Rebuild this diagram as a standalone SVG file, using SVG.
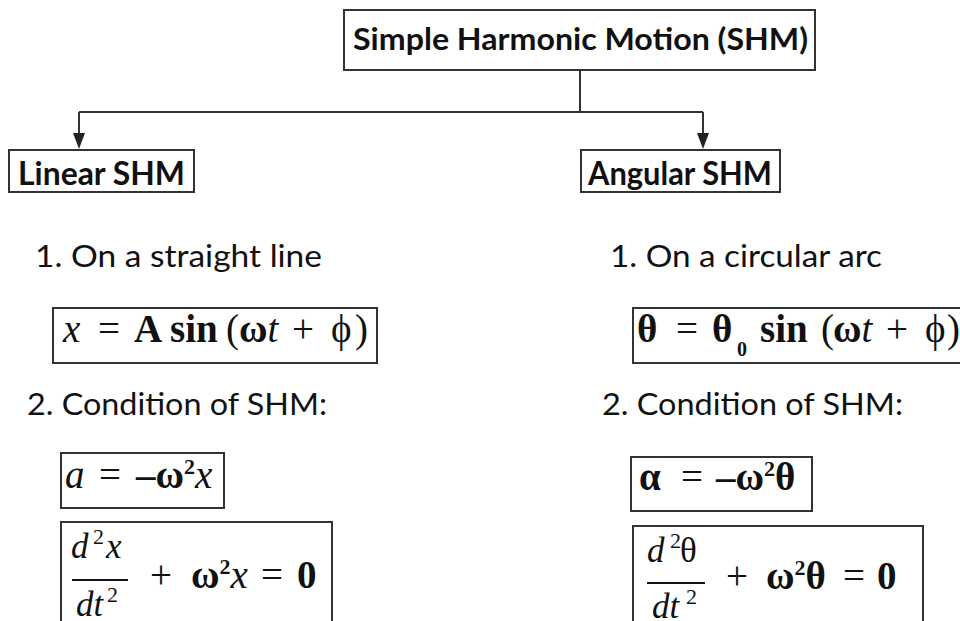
<svg xmlns="http://www.w3.org/2000/svg" width="960" height="621" viewBox="0 0 960 621">
<defs>
<style>
.box{fill:#fff;stroke:#333;stroke-width:2}
.hw{font-family:Lato,"Open Sans",sans-serif;fill:#111}
.hb{font-weight:700}
.m{font-family:"Liberation Serif","Times New Roman",serif;fill:#111}
.i{font-style:italic}
.b{font-weight:700}
.con{fill:none;stroke:#333;stroke-width:2}
.ah{fill:#222}
</style>
</defs>
<rect width="960" height="621" fill="#fff"/>

<g id="connectors">
<path class="con" d="M580,70 V112"/>
<path class="con" d="M79,112 H703"/>
<path class="con" d="M79,112 V134"/>
<path class="con" d="M703,112 V134"/>
<path class="ah" d="M73,133 L85,133 L79,149 Z"/>
<path class="ah" d="M697,133 L709,133 L703,149 Z"/>
</g>

<g id="title">
<rect class="box" x="344" y="10" width="471" height="60"/>
<text class="hw hb" x="353" y="50" font-size="30" textLength="455" lengthAdjust="spacingAndGlyphs">Simple Harmonic Motion (SHM)</text>
</g>

<g id="linear">
<rect class="box" x="9" y="150" width="185" height="42"/>
<text class="hw hb" x="18" y="185" font-size="32" textLength="167" lengthAdjust="spacingAndGlyphs">Linear SHM</text>
</g>

<g id="angular">
<rect class="box" x="581" y="150" width="199" height="42"/>
<text class="hw hb" x="588" y="185" font-size="32" textLength="184" lengthAdjust="spacingAndGlyphs">Angular SHM</text>
</g>

<g id="linear-1">
<text class="hw" x="35" y="267" font-size="30" textLength="287" lengthAdjust="spacingAndGlyphs">1. On a straight line</text>
</g>

<g id="angular-1">
<text class="hw" x="610" y="267" font-size="30" textLength="272" lengthAdjust="spacingAndGlyphs">1. On a circular arc</text>
</g>

<g id="linear-eq1">
<rect class="box" x="53" y="308" width="324" height="55"/>
<text class="m" y="342" font-size="39"><tspan class="i" x="63">x</tspan><tspan x="98">=</tspan><tspan class="b" x="134">A</tspan><tspan class="b" x="170">sin</tspan><tspan x="226">(</tspan><tspan class="b" x="239">ω</tspan><tspan class="i">t</tspan><tspan x="292">+</tspan><tspan x="331">ϕ</tspan><tspan x="355">)</tspan></text>
</g>

<g id="angular-eq1">
<rect class="box" x="633" y="308" width="330" height="55"/>
<text class="m" y="342" font-size="39"><tspan class="b" x="637">θ</tspan><tspan x="676">=</tspan><tspan class="b" x="712">θ</tspan><tspan x="760" class="b">sin</tspan><tspan x="821">(</tspan><tspan class="b" x="833">ω</tspan><tspan class="i">t</tspan><tspan x="886">+</tspan><tspan x="925">ϕ</tspan><tspan x="947">)</tspan></text>
<text class="m b" x="737" y="356" font-size="20">0</text>
</g>

<g id="linear-2">
<text class="hw" x="27" y="415" font-size="30" textLength="300" lengthAdjust="spacingAndGlyphs">2. Condition of SHM:</text>
</g>

<g id="angular-2">
<text class="hw" x="602" y="415" font-size="30" textLength="301" lengthAdjust="spacingAndGlyphs">2. Condition of SHM:</text>
</g>

<g id="linear-eq2">
<rect class="box" x="61" y="453" width="163" height="55"/>
<text class="m" y="488" font-size="39"><tspan class="i" x="65">a</tspan><tspan x="99">=</tspan><tspan class="b" x="136">–ω</tspan><tspan class="b" dy="-14" font-size="22">2</tspan><tspan class="i" dy="14">x</tspan></text>
</g>

<g id="angular-eq2">
<rect class="box" x="631" y="457" width="181" height="54"/>
<text class="m" y="490" font-size="39"><tspan class="b" x="639">α</tspan><tspan x="681">=</tspan><tspan class="b" x="716">–ω</tspan><tspan class="b" dy="-14" font-size="22">2</tspan><tspan class="b" dy="14">θ</tspan></text>
</g>

<g id="linear-eq3">
<rect class="box" x="61" y="522" width="271" height="110"/>
<text class="m" y="558" font-size="35"><tspan class="i" x="71">d</tspan><tspan x="93" dy="-14" font-size="22">2</tspan><tspan class="i" x="106" dy="14">x</tspan></text>
<path d="M72,580 H128" stroke="#111" stroke-width="2"/>
<text class="m" y="616" font-size="35"><tspan class="i" x="76">dt</tspan><tspan x="107" dy="-14" font-size="22">2</tspan></text>
<text class="m" y="588" font-size="39"><tspan x="150">+</tspan><tspan class="b" x="191">ω</tspan><tspan class="b" dy="-14" font-size="22">2</tspan><tspan class="i" dy="14">x</tspan><tspan x="261">=</tspan><tspan class="b" x="297">0</tspan></text>
</g>

<g id="angular-eq3">
<rect class="box" x="633" y="526" width="290" height="110"/>
<text class="m" y="562" font-size="35"><tspan class="i" x="647">d</tspan><tspan x="670" dy="-14" font-size="22">2</tspan><tspan x="680" dy="14">θ</tspan></text>
<path d="M647,583 H705" stroke="#111" stroke-width="2"/>
<text class="m" y="618" font-size="35"><tspan class="i" x="652">dt</tspan><tspan x="686" dy="-14" font-size="22">2</tspan></text>
<text class="m" y="589" font-size="39"><tspan x="726">+</tspan><tspan class="b" x="766">ω</tspan><tspan class="b" dy="-14" font-size="22">2</tspan><tspan class="b" dy="14">θ</tspan><tspan x="843">=</tspan><tspan class="b" x="877">0</tspan></text>
</g>
</svg>
